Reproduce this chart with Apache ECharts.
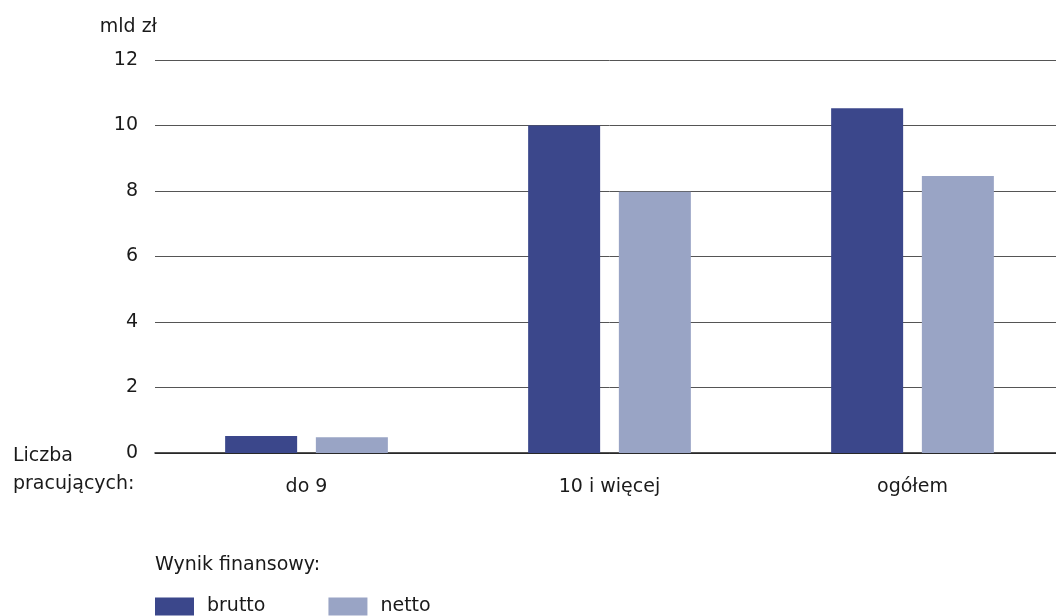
<!DOCTYPE html>
<html>
<head>
<meta charset="utf-8">
<script src="https://cdn.jsdelivr.net/npm/echarts@6/dist/echarts.min.js"></script>
<style>
html,body{margin:0;padding:0;background:#fff;overflow:hidden;width:1056px;height:616px;}
#c{width:1068px;height:616px;}
</style>
</head>
<body>
<div id="c"></div>
<script>
const categories = ['do 9', '10 i więcej', 'ogółem'];
const brutto = [0.52, 10.0, 10.53];
const netto = [0.48, 7.98, 8.46];
const yTicks = [0, 2, 4, 6, 8, 10, 12];
const seriesNames = ['brutto', 'netto'];

const FONT = '"DejaVu Sans", sans-serif';
const FS = 19;
const chart = echarts.init(document.getElementById('c'));
chart.setOption({
  animation: false,
  textStyle: { fontFamily: FONT, color: '#1a1a1a' },
  grid: { left: 155, right: 4, top: 60, bottom: 163, containLabel: false },
  xAxis: {
    type: 'category',
    data: categories,
    axisLine: { lineStyle: { color: '#1a1a1a', width: 1.5 } },
    axisTick: { show: false },
    axisLabel: { color: '#1a1a1a', fontSize: FS, fontFamily: FONT, margin: 25 }
  },
  yAxis: {
    type: 'value',
    min: yTicks[0],
    max: yTicks[yTicks.length - 1],
    interval: 2,
    name: 'mld zł',
    nameLocation: 'end',
    nameGap: 23,
    nameTextStyle: { color: '#1a1a1a', fontSize: FS, fontFamily: FONT, align: 'right', padding: [0, -2, 0, 0] },
    axisLine: { show: false },
    axisTick: { show: false },
    axisLabel: { color: '#1a1a1a', fontSize: FS, fontFamily: FONT, margin: 17 },
    splitLine: { lineStyle: { color: '#555', width: 1 } }
  },
  legend: {
    left: 155,
    top: 597,
    padding: 0,
    itemWidth: 39,
    itemHeight: 18,
    itemGap: 63,
    icon: 'rect',
    textStyle: { color: '#1a1a1a', fontSize: FS, fontFamily: FONT, padding: [0, 0, 0, 8] },
    data: seriesNames
  },
  series: [
    { name: seriesNames[0], type: 'bar', data: brutto, barWidth: 72, barGap: '26%', itemStyle: { color: '#3b478b' } },
    { name: seriesNames[1], type: 'bar', data: netto, barWidth: 72, itemStyle: { color: '#99a4c5' } }
  ],
  graphic: [
    { type: 'text', left: 13, top: 442, style: { text: 'Liczba\npracujących:', fontSize: FS, fontFamily: FONT, fill: '#1a1a1a', lineHeight: 28 } },
    { type: 'text', left: 155, top: 556, style: { text: 'Wynik finansowy:', fontSize: FS, fontFamily: FONT, fill: '#1a1a1a' } }
  ]
});
</script>
</body>
</html>
